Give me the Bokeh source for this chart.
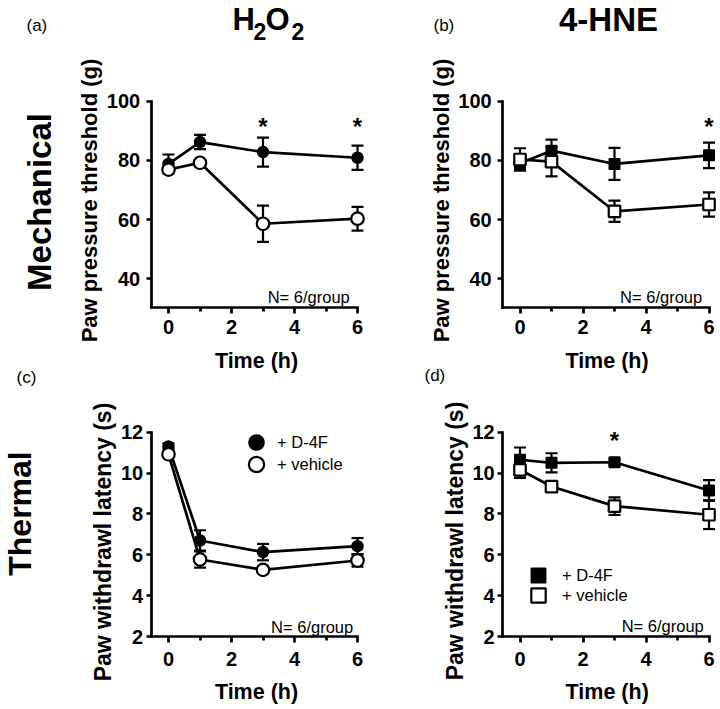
import math
from bokeh.plotting import figure
from bokeh.models import Range1d, FixedTicker, Label, Legend, LegendItem
from bokeh.layouts import row, column
from bokeh.embed import file_html
from bokeh.resources import INLINE

# ---------------- data ----------------
time_h = [0, 1, 3, 6]
x_ticks = [0, 2, 4, 6]
x_minor_ticks = [1, 3, 5]
mech_y_ticks = [40, 60, 80, 100]
therm_y_ticks = [2, 4, 6, 8, 10, 12]

# (a) H2O2, mechanical (paw pressure threshold, g)
h2o2_mech_d4f = [78.8, 86.2, 82.8, 80.9]
h2o2_mech_d4f_sem = [3.2, 2.4, 4.9, 4.1]
h2o2_mech_veh = [76.9, 79.2, 58.6, 60.3]
h2o2_mech_veh_sem = [1.0, 1.0, 6.1, 4.0]
h2o2_mech_sig = [3, 6]

# (b) 4-HNE, mechanical
hne_mech_d4f = [79.0, 83.3, 78.8, 81.7]
hne_mech_d4f_sem = [2.0, 3.7, 5.4, 4.3]
hne_mech_veh = [80.3, 79.6, 62.8, 65.1]
hne_mech_veh_sem = [3.8, 5.0, 3.6, 4.1]
hne_mech_sig = [6]

# (c) H2O2, thermal (paw withdrawal latency, s)
h2o2_therm_d4f = [11.30, 6.70, 6.13, 6.42]
h2o2_therm_d4f_sem = [0.15, 0.5, 0.4, 0.4]
h2o2_therm_veh = [10.92, 5.77, 5.26, 5.72]
h2o2_therm_veh_sem = [0.1, 0.4, 0.15, 0.3]
h2o2_therm_sig = []

# (d) 4-HNE, thermal
hne_therm_d4f = [10.65, 10.50, 10.53, 9.15]
hne_therm_d4f_sem = [0.6, 0.47, 0.15, 0.5]
hne_therm_veh = [10.16, 9.34, 8.38, 7.96]
hne_therm_veh_sem = [0.4, 0.15, 0.43, 0.7]
hne_therm_sig = [3]

legend_labels = ["+ D-4F", "+ vehicle"]
n_text = "N= 6/group"
x_label = "Time (h)"
mech_y_label = "Paw pressure threshold (g)"
therm_y_label = "Paw withdrawl latency (s)"

# ---------------- style / layout ----------------
FONT = "Liberation Sans"
PX_PER_H = 31.5
X_AXIS_START = -0.55
HALF_PI = math.pi / 2


def make_fig(cw, ch, zero_px, top_val, top_px, px_per_unit, y_axis_val,
             yticks, ystand, xstand):
    # canvas covers the whole panel; axes drawn at fixed locations
    x_start = -zero_px / PX_PER_H
    x_end = (cw - zero_px) / PX_PER_H
    y_end = top_val + top_px / px_per_unit
    y_start = top_val - (ch - top_px) / px_per_unit
    p = figure(width=cw, height=ch, min_border=0,
               x_range=Range1d(x_start, x_end), y_range=Range1d(y_start, y_end),
               output_backend="svg", toolbar_location=None, tools="")
    p.outline_line_color = None
    p.grid.visible = False
    p.background_fill_color = "white"
    p.border_fill_color = "white"
    xa = p.xaxis[0]
    ya = p.yaxis[0]
    xa.fixed_location = y_axis_val
    ya.fixed_location = X_AXIS_START
    xa.ticker = FixedTicker(ticks=x_ticks, minor_ticks=x_minor_ticks)
    xa.bounds = (X_AXIS_START, 6)
    ya.ticker = FixedTicker(ticks=yticks)
    ya.bounds = (y_axis_val, top_val)
    for ax in (xa, ya):
        ax.axis_line_width = 2.7
        ax.axis_line_color = "black"
        ax.axis_line_cap = "square"
        ax.major_tick_line_width = 2.7
        ax.minor_tick_line_width = 2.7
        ax.major_tick_line_color = "black"
        ax.minor_tick_line_color = "black"
        ax.major_tick_in = 0
        ax.minor_tick_in = 0
        ax.major_label_text_font = FONT
        ax.major_label_text_font_style = "bold"
        ax.major_label_text_font_size = "20px"
        ax.major_label_text_color = "black"
    xa.major_tick_out = 6
    xa.minor_tick_out = 4
    xa.major_label_standoff = xstand
    ya.major_tick_out = 5
    ya.minor_tick_out = 0
    ya.major_label_standoff = ystand
    return p


def label(p, sx, sy, text, fs, bold=True, align="left", angle=0.0,
          x_units="screen", k=0.38):
    # sx, sy: wanted baseline anchor; k * font size compensates the text box offset
    if angle:
        sx = sx - k * fs
    else:
        sy = sy + k * fs
    p.add_layout(Label(x=sx, y=sy, x_units=x_units, y_units="screen",
                       text=text, text_font=FONT, text_font_size=f"{fs}px",
                       text_font_style="bold" if bold else "normal",
                       text_align=align, text_baseline="alphabetic",
                       text_color="black", angle=angle))


def series(p, mean, sem, marker, fill, size, lw):
    lo = [m - s for m, s in zip(mean, sem)]
    hi = [m + s for m, s in zip(mean, sem)]
    p.segment(x0=time_h, y0=lo, x1=time_h, y1=hi, line_color="black", line_width=2.2)
    p.scatter(x=time_h, y=hi, marker="dash", size=12, line_color="black", line_width=2.2)
    p.scatter(x=time_h, y=lo, marker="dash", size=12, line_color="black", line_width=2.2)
    p.line(x=time_h, y=mean, line_color="black", line_width=2.7)
    return p.scatter(x=time_h, y=mean, marker=marker, size=size,
                     fill_color=fill, line_color="black", line_width=lw)


def legend(p, r, text, vx, vy, glyph, standoff):
    lg = Legend(items=[LegendItem(label=text, renderers=[r])], location=(vx, vy),
                glyph_width=glyph, glyph_height=glyph, label_height=glyph,
                padding=0, margin=0, spacing=0, label_standoff=standoff,
                border_line_color=None, background_fill_alpha=0,
                label_text_font=FONT, label_text_font_size="16.5px",
                label_text_color="black")
    p.add_layout(lg)


# ---------------- (a) ----------------
pa = make_fig(385, 390, 168, 100, 100.7, 2.96, 30.4, mech_y_ticks, 6, 7)
series(pa, h2o2_mech_d4f, h2o2_mech_d4f_sem, "circle", "black", 11, 1.5)
series(pa, h2o2_mech_veh, h2o2_mech_veh_sem, "circle", "white", 12.5, 2.2)
for t in h2o2_mech_sig:
    label(pa, t, 264.4, "*", 24, align="center", x_units="data", k=0)
label(pa, 349.3, 89.3, n_text, 16.5, bold=False, align="right", k=0.25)
label(pa, 26, 358.5, "(a)", 17, bold=False)
label(pa, 232, 359.5, "H", 31)
label(pa, 253, 350, "2", 23)
label(pa, 265, 359.5, "O", 31)
label(pa, 291, 350, "2", 23)
label(pa, 51.7, 188.5, "Mechanical", 33, align="center", angle=HALF_PI)
label(pa, 97.5, 190, mech_y_label, 22, align="center", angle=HALF_PI)
label(pa, 256, 21.5, x_label, 21.5, align="center")
label(pa, 16, 6.5, "(c)", 17, bold=False)

# ---------------- (b) ----------------
pb = make_fig(335, 390, 134.5, 100, 100.7, 2.96, 30.4, mech_y_ticks, 6, 7)
series(pb, hne_mech_d4f, hne_mech_d4f_sem, "square", "black", 10.5, 1.5)
series(pb, hne_mech_veh, hne_mech_veh_sem, "square", "white", 11.5, 2.2)
for t in hne_mech_sig:
    label(pb, t, 264.4, "*", 24, align="center", x_units="data", k=0)
label(pb, 316.7, 89.3, n_text, 16.5, bold=False, align="right", k=0.25)
label(pb, 48, 358.5, "(b)", 17, bold=False)
label(pb, 223, 358, "4-HNE", 33, align="center")
label(pb, 64, 190, mech_y_label, 22, align="center", angle=HALF_PI)
label(pb, 221.5, 21.5, x_label, 21.5, align="center")
label(pb, 39, 9, "(d)", 17, bold=False)

# ---------------- (c) ----------------
pc = make_fig(385, 319, 168, 12, 41.7, 20.43, 2, therm_y_ticks, 3, 9)
rc1 = series(pc, h2o2_therm_d4f, h2o2_therm_d4f_sem, "circle", "black", 11, 1.5)
rc2 = series(pc, h2o2_therm_veh, h2o2_therm_veh_sem, "circle", "white", 12.5, 2.2)
label(pc, 352.7, 78, n_text, 16.5, bold=False, align="right", k=0.25)
label(pc, 31.7, 196, "Thermal", 32, align="center", angle=HALF_PI)
label(pc, 111.5, 167.5, therm_y_label, 23, align="center", angle=HALF_PI)
label(pc, 256, 9, x_label, 21.5, align="center")
legend(pc, rc1, legend_labels[0], 237, 248, 38, 2)
legend(pc, rc2, legend_labels[1], 237, 226, 38, 2)

# ---------------- (d) ----------------
pd_ = make_fig(335, 319, 134.5, 12, 41.7, 20.43, 2, therm_y_ticks, 3, 9)
rd1 = series(pd_, hne_therm_d4f, hne_therm_d4f_sem, "square", "black", 10.5, 1.5)
rd2 = series(pd_, hne_therm_veh, hne_therm_veh_sem, "square", "white", 11.5, 2.2)
for t in hne_therm_sig:
    label(pd_, t, 268.7, "*", 24, align="center", x_units="data", k=0)
label(pd_, 318.3, 79, n_text, 16.5, bold=False, align="right", k=0.25)
label(pd_, 78.5, 168.5, therm_y_label, 23, align="center", angle=HALF_PI)
label(pd_, 221.7, 9, x_label, 21.5, align="center")
legend(pd_, rd1, legend_labels[0], 135, 116, 36, 6)
legend(pd_, rd2, legend_labels[1], 135, 96, 36, 6)

layout = column(row(pa, pb), row(pc, pd_))
open("out.html", "w").write(file_html(layout, INLINE))
